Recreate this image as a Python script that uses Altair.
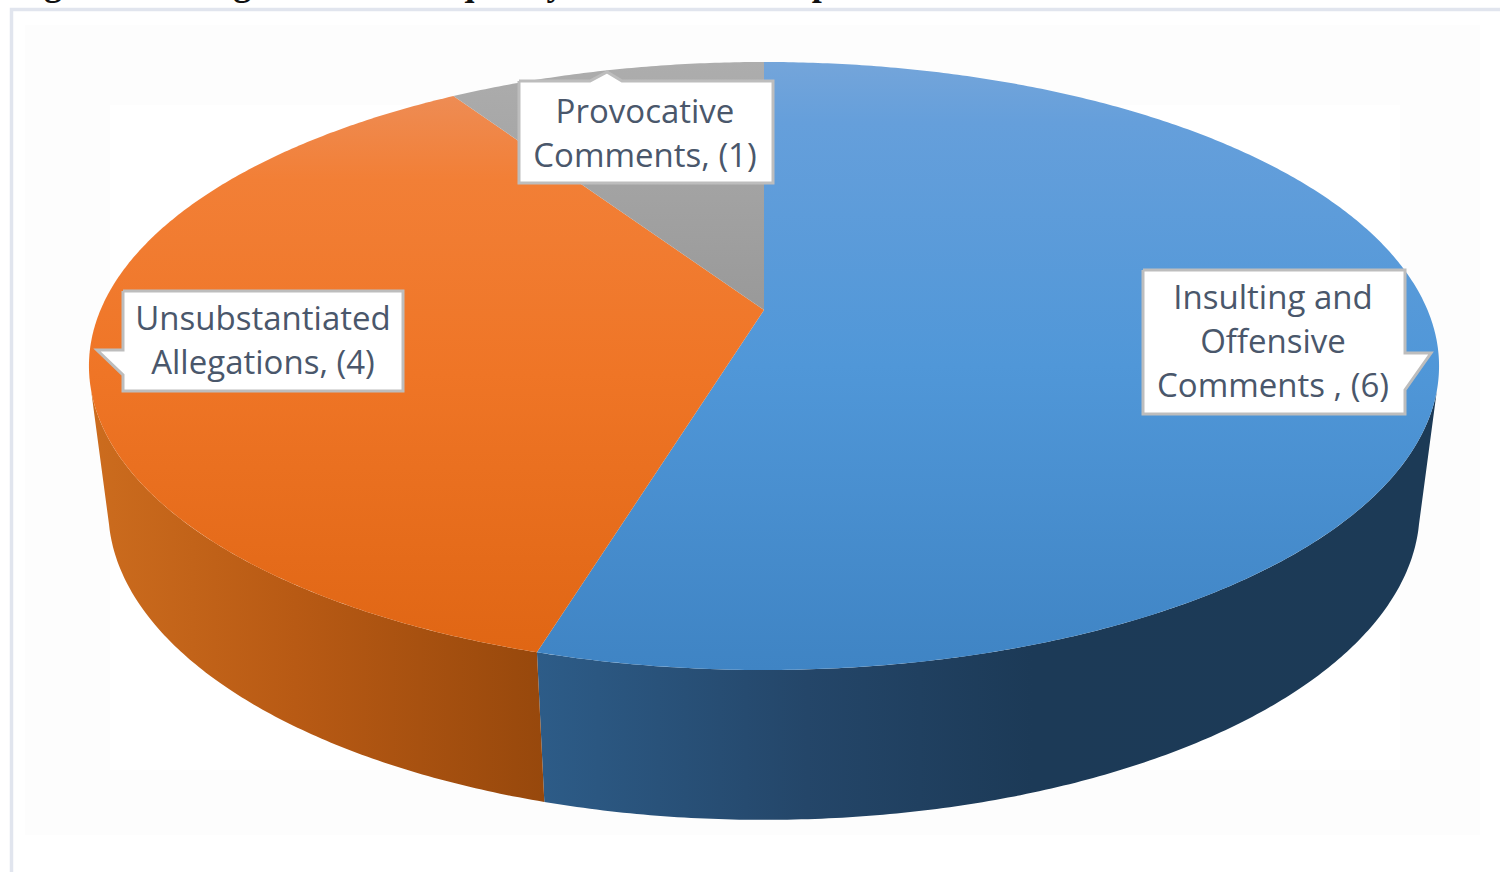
import numpy as np
import pandas as pd
import altair as alt

# Complaint categories and their counts, clockwise from twelve o'clock
categories = ["Insulting and Offensive Comments", "Unsubstantiated Allegations", "Provocative Comments"]
counts = [6, 4, 1]

# Callout text, one entry per line; the last line carries the count
label_lines = [
    ["Insulting and", "Offensive", "Comments , ({})"],
    ["Unsubstantiated", "Allegations, ({})"],
    ["Provocative", "Comments, ({})"],
]
label_centres = [(1273, 299), (263, 320), (645, 113)]
line_step = 44

heading = "Figure 3: Categories and Frequency of Uncivilised Speech"

W, H = 1500, 872

# Perspective of the disc: (centre x, centre y, half width, half depth, foreshortening)
TOP_FACE = (764.0, 310.0, 663.5, 293.7, 0.1842)
BOTTOM_FACE = (764.0, 454.0, 645.0, 300.0, 0.18)


def project(theta_deg, face):
    cx, cy, a, b, k = face
    t = np.radians(theta_deg)
    u, v = np.sin(t), np.cos(t)
    d = 1 + k * v
    return cx + a * u / d, cy - b * v / d


def frame(xs, ys):
    return pd.DataFrame({"px": xs, "py": ys, "seq": np.arange(len(xs))})


def sweep(start, stop):
    return np.linspace(start, stop, max(int(abs(stop - start) * 2), 2) + 1)


def polygon_layer(df, fill, stroke="transparent", stroke_width=0):
    return alt.Chart(df).mark_line(
        fill=fill, stroke=stroke, strokeWidth=stroke_width, clip=False
    ).encode(
        x=alt.X("px:Q", scale=alt.Scale(domain=[0, W], nice=False, zero=False), axis=None),
        y=alt.Y("py:Q", scale=alt.Scale(domain=[H, 0], nice=False, zero=False), axis=None),
        order=alt.Order("seq:Q"),
    )


def vertical(stops):
    return alt.Gradient(
        gradient="linear", x1=0, x2=0, y1=0, y2=1,
        stops=[alt.GradientStop(offset=o, color=c) for o, c in stops],
    )


def horizontal(stops):
    return alt.Gradient(
        gradient="linear", x1=0, x2=1, y1=0, y2=0,
        stops=[alt.GradientStop(offset=o, color=c) for o, c in stops],
    )


# Slice boundaries in degrees follow directly from the counts
edges = np.concatenate([[0.0], np.cumsum(counts) / np.sum(counts) * 360.0])

top_fills = [
    vertical([(0, "#74a5da"), (0.1, "#659fdb"), (0.5, "#5097d8"), (1, "#3f84c4")]),
    vertical([(0, "#ee8c54"), (0.15, "#f27f36"), (0.5, "#ef7526"), (1, "#e06614")]),
    vertical([(0, "#adadad"), (1, "#999999")]),
]

# Visible wall segments: (top-rim start, top-rim stop, bottom-rim start, bottom-rim stop).
# The top and bottom rims end at slightly different angles so the open end of each
# wall follows the straight silhouette of the disc.
wall_ranges = [
    (105.0, edges[1], edges[1], 103.0),
    (edges[1], 255.0, 257.0, edges[1]),
]
wall_fills = [
    horizontal([(0, "#2d5c88"), (0.3, "#244669"), (0.55, "#1c3a57"), (1, "#1c3a56")]),
    horizontal([(0, "#cc6c1e"), (0.45, "#b85a14"), (1, "#97480c")]),
]

layers = []

# Page backdrop and the frame line around the figure
layers.append(polygon_layer(frame([25, 1480, 1480, 25, 25], [25, 25, 835, 835, 25]), "#fdfdfd"))
layers.append(polygon_layer(frame([110, 1400, 1400, 110, 110], [105, 105, 770, 770, 105]), "#ffffff"))
layers.append(polygon_layer(frame([11.5, 11.5, 1500], [872, 9.5, 9.5]), "transparent", "#e1e5ee", 3.5))

# Outer wall, drawn first so the top face overlaps it
for (t0, t1, b0, b1), fill in zip(wall_ranges, wall_fills):
    tx, ty = project(sweep(t0, t1), TOP_FACE)
    bx, by = project(sweep(b0, b1), BOTTOM_FACE)
    layers.append(polygon_layer(
        frame(np.r_[tx, bx, tx[0]], np.r_[ty, by, ty[0]]), fill
    ))

# Top face slices
for i, fill in enumerate(top_fills):
    angles = sweep(edges[i], edges[i + 1])
    ax, ay = project(angles, TOP_FACE)
    cx, cy = TOP_FACE[0], TOP_FACE[1]
    layers.append(polygon_layer(
        frame(np.r_[cx, ax, cx], np.r_[cy, ay, cy]), fill
    ))

# Callout outlines with their pointers towards the rim
callouts = [
    ([1143, 1405, 1405, 1431, 1405, 1405, 1143, 1143],
     [270, 270, 353, 353, 390, 414, 414, 270]),
    ([123, 403, 403, 123, 123, 97, 123, 123],
     [291, 291, 391, 391, 375, 350, 350, 291]),
    ([519, 590, 607, 622, 773, 773, 519, 519],
     [81, 81, 72, 81, 81, 183, 183, 81]),
]
for xs, ys in callouts:
    layers.append(polygon_layer(frame(xs, ys), "#ffffff", "#bdbdbd", 3))

# Callout text
rows = []
for lines, (cx, cy), n in zip(label_lines, label_centres, counts):
    for j, line in enumerate(lines):
        rows.append({"tx": cx, "ty": cy + j * line_step, "label": line.format(n)})
layers.append(
    alt.Chart(pd.DataFrame(rows)).mark_text(
        font="Open Sans", fontSize=33, color="#4a576b", align="center", baseline="middle"
    ).encode(
        x=alt.X("tx:Q", scale=alt.Scale(domain=[0, W], nice=False, zero=False), axis=None),
        y=alt.Y("ty:Q", scale=alt.Scale(domain=[H, 0], nice=False, zero=False), axis=None),
        text="label:N",
    )
)

# Heading above the frame, running off the top of the page
layers.append(
    alt.Chart(pd.DataFrame({"label": [heading]})).mark_text(
        font="Liberation Serif", fontWeight="bold", fontSize=36, color="#111111",
        align="left", baseline="alphabetic",
    ).encode(x=alt.value(12), y=alt.value(-5), text="label:N")
)

chart = alt.layer(*layers).properties(
    width=W, height=H, padding=0, autosize=alt.AutoSizeParams(type="none"), background="#ffffff"
).configure_view(stroke=None)

chart.save("out.html", embed_options={"renderer": "svg", "actions": False})
